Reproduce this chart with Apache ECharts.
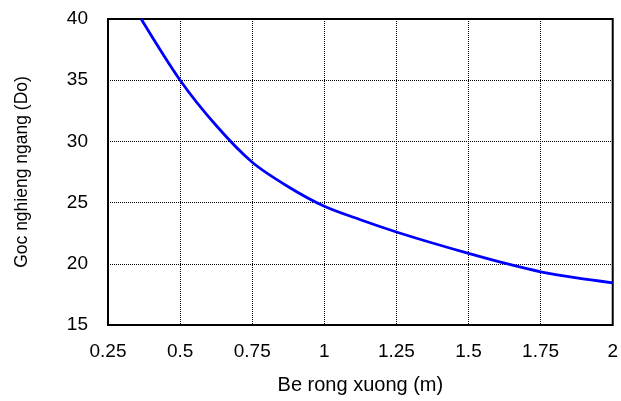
<!DOCTYPE html>
<html>
<head>
<meta charset="utf-8">
<script src="https://cdn.jsdelivr.net/npm/echarts@6/dist/echarts.min.js"></script>
<style>
  html, body { margin: 0; padding: 0; background: #fff; }
  #chart { width: 621px; height: 401px; }
</style>
</head>
<body>
<div id="chart"></div>
<script>
// Tilt angle vs. bone width
const widths = [0.365, 0.5, 0.625, 0.75, 0.875, 1, 1.125, 1.25, 1.375, 1.5, 1.625, 1.75, 1.875, 2];
const angles = [40, 35, 31.3, 28.3, 26.3, 24.7, 23.6, 22.6, 21.7, 20.85, 20.05, 19.35, 18.85, 18.45];

const xTicks = ['0.25', '0.5', '0.75', '1', '1.25', '1.5', '1.75', '2'];
const yTicks = ['15', '20', '25', '30', '35', '40'];

const font = 'Liberation Sans, Arial, sans-serif';
const chart = echarts.init(document.getElementById('chart'), null, { renderer: 'canvas' });

chart.setOption({
  animation: false,
  backgroundColor: '#fff',
  grid: {
    left: 108, top: 19, right: 4, bottom: 76,
    show: true, borderColor: '#000', borderWidth: 2, backgroundColor: 'transparent'
  },
  xAxis: {
    type: 'value',
    min: Number(xTicks[0]), max: Number(xTicks[xTicks.length - 1]), interval: 0.25,
    name: 'Be rong xuong (m)', nameLocation: 'middle', nameGap: 50,
    nameTextStyle: { fontFamily: font, fontSize: 20, color: '#000' },
    axisLine: { show: false },
    axisTick: { show: false },
    axisLabel: { fontFamily: font, fontSize: 19, color: '#000', margin: 17,
      formatter: v => xTicks.find(t => Math.abs(Number(t) - v) < 1e-6) || '' },
    splitLine: { show: true, lineStyle: { color: '#000', type: [1, 1], width: 1 } }
  },
  yAxis: {
    type: 'value',
    min: Number(yTicks[0]), max: Number(yTicks[yTicks.length - 1]), interval: 5,
    name: 'Goc nghieng ngang (Do)', nameLocation: 'middle', nameGap: 77, nameRotate: 90,
    nameTextStyle: { fontFamily: font, fontSize: 17.5, color: '#000' },
    axisLine: { show: false },
    axisTick: { show: false },
    axisLabel: { fontFamily: font, fontSize: 19, color: '#000', margin: 20 },
    splitLine: { show: true, lineStyle: { color: '#000', type: [1, 1], width: 1 } }
  },
  series: [{
    type: 'line',
    data: widths.map((w, i) => [w, angles[i]]),
    smooth: 0.3,
    showSymbol: false,
    clip: true,
    lineStyle: { color: '#0000ff', width: 2.8 }
  }]
});
</script>
</body>
</html>
